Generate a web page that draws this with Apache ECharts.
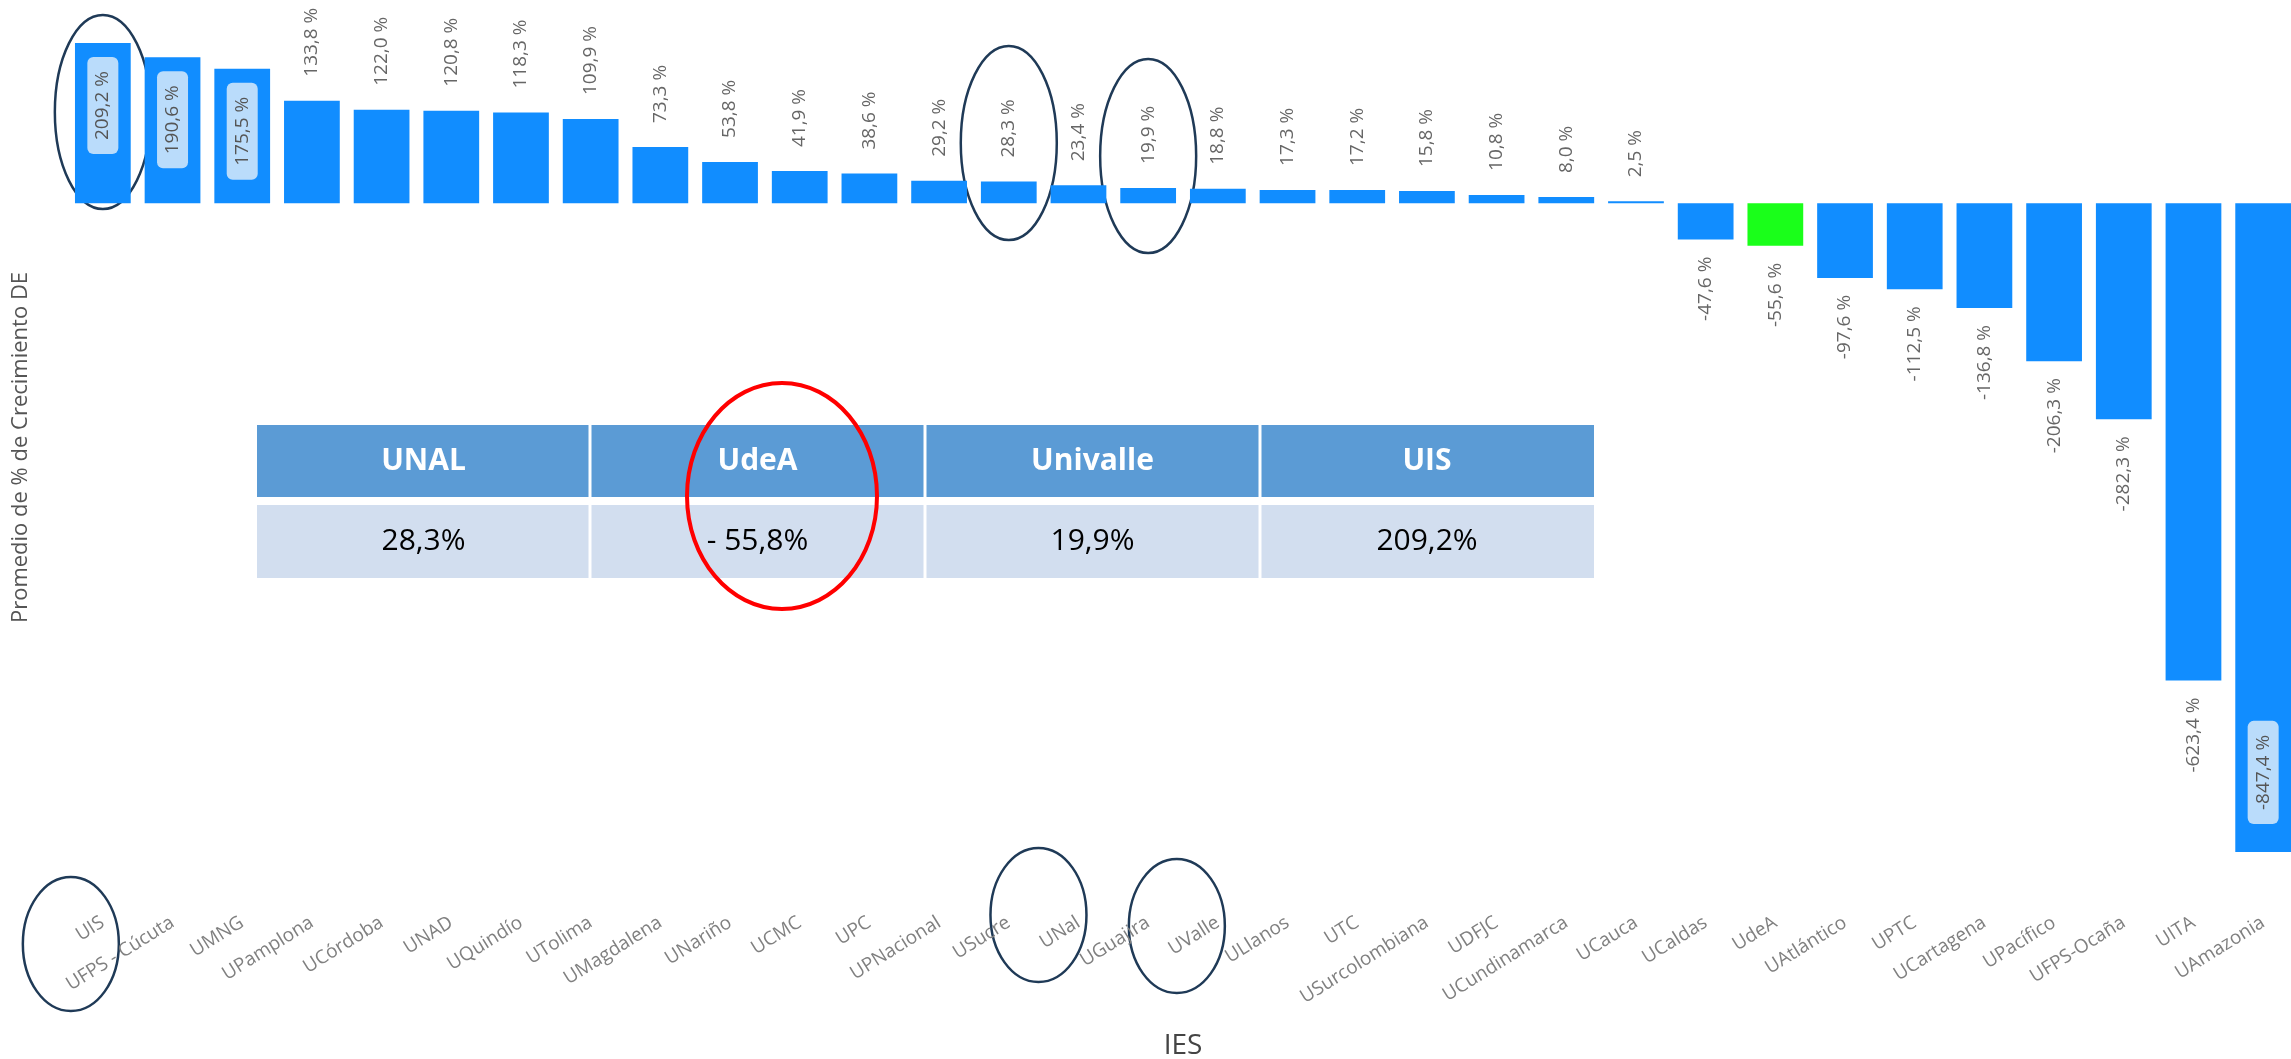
<!DOCTYPE html>
<html>
<head>
<meta charset="utf-8">
<script src="https://cdn.jsdelivr.net/npm/echarts@6/dist/echarts.min.js"></script>
<style>
html, body { margin: 0; padding: 0; background: #fff; }
#main { width: 2291px; height: 1059px; }
</style>
</head>
<body>
<div id="main"></div>
<script>
// IES ordenadas por crecimiento
var ies = ['UIS', 'UFPS - Cúcuta', 'UMNG', 'UPamplona', 'UCórdoba', 'UNAD', 'UQuindío', 'UTolima',
    'UMagdalena', 'UNariño', 'UCMC', 'UPC', 'UPNacional', 'USucre', 'UNal', 'UGuajira', 'UValle',
    'ULlanos', 'UTC', 'USurcolombiana', 'UDFJC', 'UCundinamarca', 'UCauca', 'UCaldas', 'UdeA',
    'UAtlántico', 'UPTC', 'UCartagena', 'UPacífico', 'UFPS-Ocaña', 'UITA', 'UAmazonia'];
var crecimiento = [209.2, 190.6, 175.5, 133.8, 122.0, 120.8, 118.3, 109.9, 73.3, 53.8, 41.9, 38.6,
    29.2, 28.3, 23.4, 19.9, 18.8, 17.3, 17.2, 15.8, 10.8, 8.0, 2.5, -47.6, -55.6, -97.6, -112.5,
    -136.8, -206.3, -282.3, -623.4, -847.4];
var resaltada = 'UdeA';

// tabla de comparacion
var tablaIes = ['UNAL', 'UdeA', 'Univalle', 'UIS'];
var tablaValores = ['28,3%', '- 55,8%', '19,9%', '209,2%'];

var azul = '#118DFF';
var verde = '#1AFF1A';
var fuente = "'Segoe UI', 'Open Sans', sans-serif";

function fmt(v) {
    return v.toFixed(1).replace('.', ',') + ' %';
}

var lblBase = {
    show: true,
    rotate: 90,
    verticalAlign: 'middle',
    color: '#666',
    fontSize: 19,
    fontFamily: fuente,
    formatter: function (p) { return fmt(p.value); }
};

function etiqueta(v) {
    // las barras muy largas llevan la etiqueta adentro con fondo claro
    if (v > 150) {
        return Object.assign({}, lblBase, {
            position: 'insideTop', align: 'right', distance: 14,
            backgroundColor: '#BADCFB', borderRadius: 6, padding: [6, 14, 6, 14], color: '#555'
        });
    }
    if (v < -700) {
        return Object.assign({}, lblBase, {
            position: 'insideBottom', align: 'left', distance: 28,
            backgroundColor: '#BADCFB', borderRadius: 6, padding: [6, 14, 6, 14], color: '#555'
        });
    }
    if (v >= 0) {
        return Object.assign({}, lblBase, { position: 'top', align: 'left', distance: 24 });
    }
    return Object.assign({}, lblBase, { position: 'bottom', align: 'right', distance: 17 });
}

var datos = [];
for (var i = 0; i < crecimiento.length; i++) {
    datos.push({
        value: crecimiento[i],
        itemStyle: { color: ies[i] == resaltada ? verde : azul },
        label: etiqueta(crecimiento[i])
    });
}

var dom = document.getElementById('main');
var myChart = echarts.init(dom, null, { renderer: 'canvas' });

var option = {
    backgroundColor: '#fff',
    animation: false,
    grid: {
        left: 68,
        right: -7,
        top: 43,
        bottom: 207,
        containLabel: false,
        outerBoundsMode: 'none'
    },
    xAxis: {
        type: 'category',
        data: ies,
        name: 'IES',
        nameLocation: 'middle',
        nameGap: 180,
        nameTextStyle: { fontSize: 28, color: '#444', fontFamily: fuente },
        axisLine: { show: false },
        axisTick: { show: false },
        splitLine: { show: false },
        axisLabel: {
            interval: 0,
            rotate: 32,
            margin: 69,
            color: '#808080',
            fontSize: 19,
            fontFamily: fuente
        }
    },
    yAxis: {
        type: 'value',
        min: -847.4,
        max: 209.2,
        name: 'Promedio de % de Crecimiento DE',
        nameLocation: 'middle',
        nameGap: 36,
        nameTextStyle: { fontSize: 22, color: '#555', fontFamily: fuente },
        axisLine: { show: false },
        axisTick: { show: false },
        axisLabel: { show: false },
        splitLine: { show: false }
    },
    series: [
        {
            name: 'Crecimiento',
            type: 'bar',
            barCategoryGap: '20%',
            data: datos
        }
    ]
};

myChart.setOption(option);

// anotaciones: tabla y elipses
var colX = [257, 590, 925, 1260, 1594];
var graficos = [];
graficos.push({ type: 'rect', shape: { x: 257, y: 425, width: 1337, height: 72 }, style: { fill: '#5B9BD5' } });
graficos.push({ type: 'rect', shape: { x: 257, y: 505, width: 1337, height: 73 }, style: { fill: '#D2DEEF' } });
for (var c = 1; c < 4; c++) {
    graficos.push({ type: 'rect', shape: { x: colX[c] - 1.5, y: 425, width: 3, height: 153 }, style: { fill: '#fff' } });
}
for (var c = 0; c < 4; c++) {
    var cx = (colX[c] + colX[c + 1]) / 2;
    graficos.push({
        type: 'text', x: cx, y: 461,
        style: { text: tablaIes[c], fill: '#fff', font: "bold 30px 'Open Sans', sans-serif", align: 'center', verticalAlign: 'middle' }
    });
    graficos.push({
        type: 'text', x: cx, y: 541,
        style: { text: tablaValores[c], fill: '#000', font: "30px 'Open Sans', sans-serif", align: 'center', verticalAlign: 'middle' }
    });
}

function px(nombre) {
    return myChart.convertToPixel({ xAxisIndex: 0 }, nombre);
}
var navy = '#1F3A57';
var elipses = [
    // alrededor de barras
    { x: px(ies[crecimiento.indexOf(209.2)]), y: 112, rx: 48, ry: 97 },
    { x: px(ies[crecimiento.indexOf(28.3)]), y: 143, rx: 48, ry: 97 },
    { x: px(ies[crecimiento.indexOf(19.9)]), y: 156, rx: 48, ry: 97 },
    // alrededor de etiquetas
    { x: px('UIS') - 32, y: 944, rx: 48, ry: 67 },
    { x: px('UNal') - 40, y: 915, rx: 48, ry: 67 },
    { x: px('UValle') - 41, y: 926, rx: 48, ry: 67 }
];
for (var e = 0; e < elipses.length; e++) {
    graficos.push({
        type: 'ellipse',
        shape: { cx: elipses[e].x, cy: elipses[e].y, rx: elipses[e].rx, ry: elipses[e].ry },
        style: { fill: 'none', stroke: navy, lineWidth: 2.5 }
    });
}
graficos.push({
    type: 'ellipse',
    shape: { cx: 782, cy: 496, rx: 95, ry: 113 },
    style: { fill: 'none', stroke: '#FF0000', lineWidth: 4 }
});

myChart.setOption({ graphic: graficos });
</script>
</body>
</html>
